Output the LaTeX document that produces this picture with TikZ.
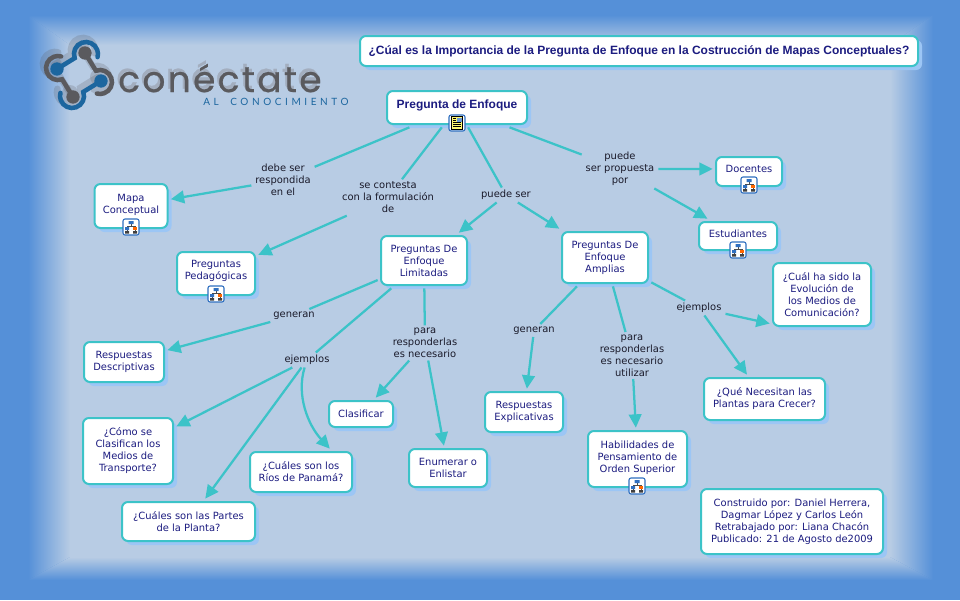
\documentclass[tikz,border=0pt]{standalone}
\usepackage{fontspec}
\usepackage{xcolor}
\usepackage{tikz}
\usetikzlibrary{arrows.meta, shadows}
\setmainfont{DejaVu Sans}
\newfontfamily\titlefont{Liberation Sans}
\newfontfamily\logofont[LetterSpace=6.4, FakeBold=0.7]{Poppins}
\newfontfamily\lemafont[LetterSpace=36]{Lato}
\definecolor{frameblue}{HTML}{5590D8}
\definecolor{paneblue}{HTML}{B8CCE4}
\definecolor{rimteal}{HTML}{3CC3C8}
\definecolor{shadeblue}{HTML}{9CC6F5}
\definecolor{inkblue}{HTML}{1C1C80}
\definecolor{inkdark}{HTML}{1A1A2A}
\definecolor{logoblue}{HTML}{1C669F}
\definecolor{logogray}{HTML}{5A5A5E}
\definecolor{logoshade}{HTML}{A3AEBF}
\definecolor{iconblue}{HTML}{2F6FC0}

\begin{document}
\begin{tikzpicture}[
        x=0.75pt, y=-0.75pt,
        box/.style={draw=rimteal, line width=1.5pt, rectangle, rounded corners=4.5pt, fill=white, align=center,
            text=inkblue, font=\fontsize{7.45}{9}\selectfont, outer sep=2.5pt, inner sep=0pt,
            general shadow={shadow xshift=3pt, shadow yshift=-3pt, fill=shadeblue}},
        size/.style 2 args={minimum width=#1*0.75pt, minimum height=#2*0.75pt},
        phrase/.style={align=center, text=inkdark, font=\fontsize{7.45}{9}\selectfont, inner xsep=3pt, inner ysep=2pt, outer sep=0pt},
        link/.style={draw=rimteal, line width=1.7pt},
        arrow/.style={link, -{Triangle[length=10pt, width=9.5pt]}},
        treeicon/.pic={
            \draw[iconblue, fill=white, line width=0.8pt, rounded corners=1.5pt] (-8,-8) rectangle (8,8);
            \draw[black!70, line width=0.45pt] (0,-3) -- (0,-1) (-4,-1) -- (4,-1) (-4,-1) -- (-4,5) (4,-1) -- (4,5);
            \fill[iconblue] (-2.5,-6) rectangle (2.5,-3) (-6,0) rectangle (-2,3);
            \fill[orange!80!red] (2,0) rectangle (6,3);
            \fill[black!75] (-6,4) rectangle (-2,6.5) (2,4) rectangle (6,6.5);
        },
        noteicon/.pic={
            \draw[iconblue, fill=white, line width=0.8pt, rounded corners=1.5pt] (-8,-8) rectangle (8,8);
            \draw[black, fill=yellow!55, line width=0.5pt] (-5.5,-6.5) rectangle (5.5,6.5);
            \fill[iconblue!70] (0,-5.5) rectangle (4.5,-1);
            \draw[black, line width=0.5pt] (-4,-4.5) -- (-1,-4.5) (-4,-2.5) -- (-1,-2.5) (-4,-0.5) -- (4,-0.5) (-4,1.5) -- (4,1.5) (-4,3.5) -- (4,3.5);
        }
    ]
        \useasboundingbox (0,0) rectangle (960,600);

        % Frame
        \fill[frameblue] (0,0) rectangle (960,600);
        \shade[top color=frameblue, bottom color=paneblue] (28,15) -- (933,15) -- (890,45) -- (70,45) -- cycle;
        \shade[top color=paneblue, bottom color=frameblue] (70,557) -- (890,557) -- (933,580) -- (28,580) -- cycle;
        \shade[left color=frameblue, right color=paneblue] (28,15) -- (70,45) -- (70,557) -- (28,580) -- cycle;
        \shade[left color=paneblue, right color=frameblue] (890,45) -- (933,15) -- (933,580) -- (890,557) -- cycle;
        \fill[paneblue] (70,45) rectangle (890,557);

        % Logo
        \foreach \ang in {0,90,180,270} {
            \begin{scope}[shift={(76,71)}, rotate=-\ang, opacity=0.22, line width=5pt, line cap=round, logogray]
                \draw (-22,-6) -- (-4.3,-16.9) arc (200:-15:9pt);
                \fill (-22,-6) circle (6pt);
            \end{scope}
        }
        \foreach \ang/\tone in {0/logoblue, 90/logogray, 180/logoblue, 270/logogray} {
            \begin{scope}[shift={(79,75)}, rotate=-\ang, line width=3.4pt, line cap=round, \tone]
                \draw (-22,-6) -- (-4.3,-16.9) arc (200:-15:9pt);
                \fill (-22,-6) circle (5pt);
            \end{scope}
        }
        \node[anchor=base west, inner sep=0pt, text=logogray, font=\logofont\fontsize{27}{27}\selectfont] (logoword) at (118,92)
            {\rlap{\kern-1.5pt\raisebox{2.5pt}{\textcolor{logoshade}{conéctate}}}conéctate};
        \node[anchor=base west, inner sep=0pt, text=logoblue, font=\lemafont\fontsize{7.5}{8}\selectfont] (logolema) at (203,105) {AL\hspace{4pt} CONOCIMIENTO};

        % Title
        \node[box, size={558}{30}, font=\titlefont\bfseries\fontsize{9}{11}\selectfont] (title) at (639,51)
            {¿Cúal es la Importancia de la Pregunta de Enfoque en la Costrucción de Mapas Conceptuales?};

        % Concepts
        \node[box, size={140}{33}, font=\titlefont\bfseries\fontsize{9}{11}\selectfont, text depth=4.5pt] (enfoque) at (457,107.5) {Pregunta de Enfoque};
        \node[box, size={73}{44}, text depth=3.5pt] (mapa) at (131,206) {Mapa\\Conceptual};
        \node[box, size={78}{43}, text depth=5pt] (pedagogicas) at (216,273.5) {Preguntas\\Pedagógicas};
        \node[box, size={86}{49}] (limitadas) at (424,260.5) {Preguntas De\\Enfoque\\Limitadas};
        \node[box, size={86}{51}] (amplias) at (605,257.5) {Preguntas De\\Enfoque\\Amplias};
        \node[box, size={66}{29}, text depth=4pt] (docentes) at (749,171.5) {Docentes};
        \node[box, size={78}{28}, text depth=3.5pt] (estudiantes) at (738,236) {Estudiantes};
        \node[box, size={98}{63}] (evolucion) at (822,294.5) {¿Cuál ha sido la\\Evolución de\\los Medios de\\Comunicación?};
        \node[box, size={121}{42}] (plantas) at (764.5,399) {¿Qué Necesitan las\\Plantas para Crecer?};
        \node[box, size={80}{40}] (descriptivas) at (124,362) {Respuestas\\Descriptivas};
        \node[box, size={90}{66}] (transporte) at (128,451) {¿Cómo se\\Clasifican los\\Medios de\\Transporte?};
        \node[box, size={133}{39}] (partes) at (188.5,521.5) {¿Cuáles son las Partes\\de la Planta?};
        \node[box, size={102}{40}] (rios) at (301,472) {¿Cuáles son los\\Ríos de Panamá?};
        \node[box, size={64}{26}] (clasificar) at (361,414) {Clasificar};
        \node[box, size={78}{38}] (enumerar) at (448,468) {Enumerar o\\Enlistar};
        \node[box, size={78}{40}] (explicativas) at (524,412) {Respuestas\\Explicativas};
        \node[box, size={99}{56}, text depth=3.5pt] (habilidades) at (637.5,459) {Habilidades de\\Pensamiento de\\Orden Superior};
        \node[box, size={182}{65}] (autores) at (792,521.5) {Construido por: Daniel Herrera,\\Dagmar López y Carlos León\\Retrabajado por: Liana Chacón\\Publicado: 21 de Agosto de2009};

        % Linking phrases
        \node[phrase] (debeser) at (283,180) {debe ser\\respondida\\en el};
        \node[phrase] (contesta) at (388,197.5) {se contesta\\con la formulación\\de};
        \node[phrase] (puedeser) at (506,195) {puede ser};
        \node[phrase] (propuesta) at (620,169) {puede\\ser propuesta\\por};
        \node[phrase] (generan1) at (294,315.5) {generan};
        \node[phrase] (ejemplos1) at (307,360) {ejemplos};
        \node[phrase] (necesario1) at (425,343) {para\\responderlas\\es necesario};
        \node[phrase] (generan2) at (534,330.5) {generan};
        \node[phrase] (necesario2) at (632,355.5) {para\\responderlas\\es necesario\\utilizar};
        \node[phrase] (ejemplos2) at (699,308) {ejemplos};

        % Links
        \draw[link] (enfoque) -- (debeser);
        \draw[arrow] (debeser) -- (mapa);
        \draw[link] (enfoque) -- (contesta);
        \draw[arrow] (contesta) -- (pedagogicas);
        \draw[link] (enfoque) -- (puedeser);
        \draw[arrow] (puedeser) -- (limitadas);
        \draw[arrow] (puedeser) -- (amplias);
        \draw[link] (enfoque) -- (propuesta);
        \draw[arrow] (propuesta) -- (docentes.176);
        \draw[arrow] (propuesta) -- (estudiantes);

        \draw[link] (limitadas) -- (generan1);
        \draw[arrow] (generan1) -- (descriptivas);
        \draw[link] (limitadas) -- (ejemplos1);
        \draw[arrow] (ejemplos1) -- (transporte);
        \draw[arrow] (ejemplos1) -- (partes);
        \draw[arrow] (ejemplos1) .. controls (296,395) and (308,425) .. (rios.39);
        \draw[link] (limitadas) -- (necesario1);
        \draw[arrow] (necesario1) -- (clasificar);
        \draw[arrow] (necesario1) -- (enumerar);

        \draw[link] (amplias) -- (generan2);
        \draw[arrow] (generan2) -- (explicativas);
        \draw[link] (amplias) -- (necesario2);
        \draw[arrow] (necesario2) -- (habilidades);
        \draw[link] (amplias) -- (ejemplos2);
        \draw[arrow] (ejemplos2) -- (evolucion.209);
        \draw[arrow] (ejemplos2) -- (plantas);

        % Icons
        \pic (iconenfoque) at (457,123) {noteicon};
        \pic (iconmapa) at (131,227) {treeicon};
        \pic (iconpedagogicas) at (216,294) {treeicon};
        \pic (icondocentes) at (749,185) {treeicon};
        \pic (iconestudiantes) at (738,250) {treeicon};
        \pic (iconhabilidades) at (637,486) {treeicon};
    \end{tikzpicture}
\end{document}
